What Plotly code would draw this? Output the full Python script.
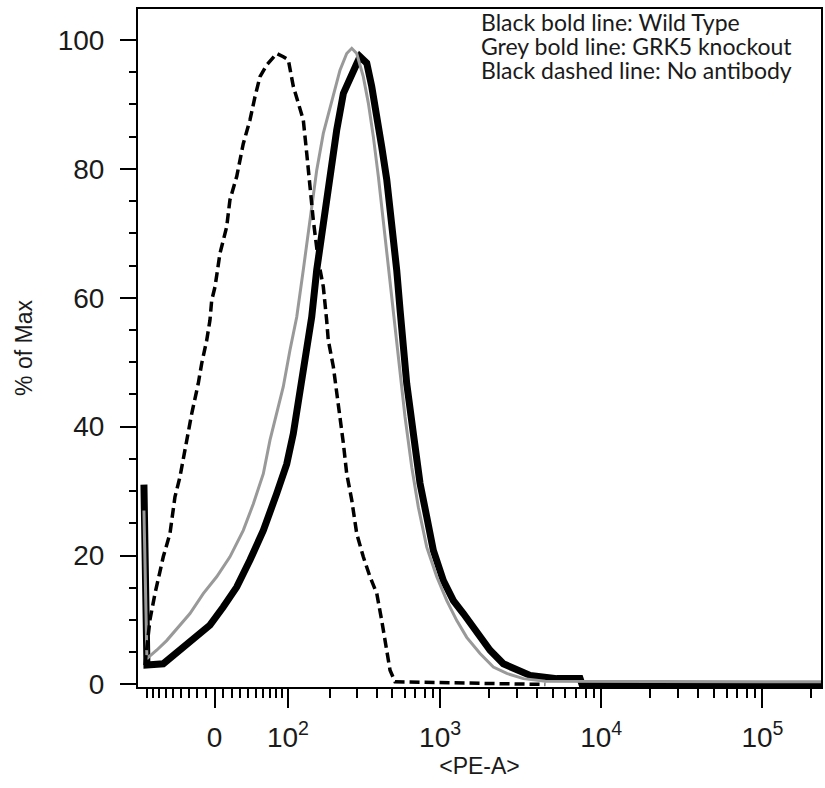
import numpy as np
import plotly.graph_objects as go

# ---------------- data (PE-A intensity, % of Max) ----------------
wt_pe = [-95.1, -89.9, -64.0, -41.2, -20.7, -5.3, 9.9, 25.7, 42.2, 60.3, 80.6, 97.8,
         110.1, 123.7, 138.4, 150.1, 162.7, 180.5, 200.4, 221.8, 245.3, 270.9, 299.3,
         314.2, 346.8, 373.0, 401.5, 431.6, 464.3, 499.0, 536.1, 562.8, 576.6, 619.3,
         681.6, 750.0, 825.9, 907.7, 1047.8, 1209.3, 1395.6, 1690, 2043, 2471, 2995,
         3622, 5304, 7394, 7600, 230700]
wt_pct = [31.0, 3.0, 3.2, 5.3, 7.3, 9.2, 12.0, 15.1, 19.3, 23.9, 29.6, 34.2,
          38.9, 45.1, 51.9, 57.0, 64.3, 72.0, 79.8, 86.0, 91.7, 94.3, 96.3,
          97.4, 96.4, 92.8, 88.6, 83.4, 78.3, 72.0, 64.3, 58.1, 54.5, 46.7,
          38.9, 31.2, 26.0, 20.8, 16.1, 13.0, 11.0, 7.9, 5.3, 3.2, 2.2,
          1.4, 0.9, 0.9, 0.0, 0.0]

ko_pe = [-95.1, -89.9, -87.6, -74.0, -59.1, -45.4, -28.7, -13.0, 2.4, 17.7, 33.7,
         46.5, 60.3, 70.1, 80.6, 91.7, 103.8, 116.9, 130.7, 146.1, 162.7, 180.5,
         210.7, 233.1, 257.9, 278.0, 299.3, 329.7, 355.1, 381.9, 411.0, 441.8,
         474.8, 510.7, 562.8, 604.5, 666.0, 732.1, 825.9, 953.4, 1100.5, 1270,
         1464, 1771, 2142, 2595, 3291, 4500, 230700]
ko_pct = [27.0, 4.0, 4.2, 5.3, 6.8, 8.6, 11.0, 14.1, 16.7, 19.8, 23.9,
          28.0, 32.7, 37.9, 42.0, 46.2, 51.9, 57.0, 64.3, 72.0, 79.8, 85.5,
          91.2, 95.3, 97.9, 98.7, 97.9, 94.3, 90.2, 85.0, 78.8, 72.0,
          65.3, 57.5, 49.3, 41.5, 33.7, 27.5, 21.3, 16.7, 13.0, 9.9,
          7.3, 4.8, 2.7, 1.7, 0.9, 0.5, 0.4]

noab_pe = [-93.3, -84.8, -76.6, -64.0, -54.5, -47.7, -41.2, -32.8, -26.6, -18.8,
           -14.8, -9.0, -5.3, -3.3, 0.5, 6.2, 13.9, 17.7, 25.7, 33.7, 42.2, 48.8,
           55.6, 65.2, 80.6, 91.7, 100.7, 110.1, 120.2, 130.7, 138.4, 146.1, 154.1,
           166.8, 180.5, 190.2, 195.0, 210.7, 227.3, 245.3, 257.9, 278.0, 299.3,
           329.7, 363.9, 401.5, 431.6, 464.3, 486.9, 523.3, 4500]
noab_pct = [3.0, 10.0, 14.1, 19.8, 23.4, 29.1, 32.2, 37.9, 42.0, 46.7,
            49.8, 53.4, 56.5, 59.6, 61.7, 66.9, 71.0, 75.2, 78.8, 83.9, 87.6, 91.2,
            94.3, 96.1, 97.9, 97.4, 96.9, 92.8, 90.2, 87.6, 82.4, 77.2, 72.0,
            65.8, 61.7, 56.5, 53.4, 49.3, 43.6, 37.4, 32.7, 28.6, 23.4,
            19.8, 16.7, 14.1, 9.9, 5.3, 2.2, 0.4, 0.0]

x_major_vals = [0, 100, 1000, 10000, 100000]
x_major_text = ["0", "10<sup>2</sup>", "10<sup>3</sup>", "10<sup>4</sup>", "10<sup>5</sup>"]
x_minor_vals = ([-v for v in range(10, 100, 10)] + list(range(10, 100, 10)) +
                list(range(200, 1000, 100)) + list(range(2000, 10000, 1000)) +
                list(range(20000, 100000, 10000)) + [200000])
x_limits = [-106, 230700]

y_major_vals = [0, 20, 40, 60, 80, 100]
legend_lines = ["Black bold line: Wild Type",
                "Grey bold line: GRK5 knockout",
                "Black dashed line: No antibody"]

# ---------------- biexponential-like display transform ----------------
C = 80.0
def T(v):
    return np.arcsinh(np.asarray(v, dtype=float) / C)

fig = go.Figure()
fig.add_trace(go.Scatter(x=T(wt_pe), y=wt_pct, mode="lines",
                         line=dict(color="#000000", width=7), showlegend=False))
fig.add_trace(go.Scatter(x=T(ko_pe), y=ko_pct, mode="lines",
                         line=dict(color="#999999", width=3), showlegend=False))
fig.add_trace(go.Scatter(x=T(noab_pe), y=noab_pct, mode="lines",
                         line=dict(color="#000000", width=3.5, dash="10px,5px"),
                         showlegend=False))

FONT = "Liberation Sans, Arial, sans-serif"
axis_font = dict(family=FONT, size=28, color="#1a1a1a")

fig.update_xaxes(
    automargin=False,
    range=list(T(x_limits)),
    tickmode="array", tickvals=list(T(x_major_vals)), ticktext=x_major_text,
    ticks="outside", ticklen=19, tickwidth=2, tickcolor="black",
    minor=dict(tickmode="array", tickvals=list(T(x_minor_vals)), ticks="outside",
               ticklen=9, tickwidth=2, tickcolor="black"),
    showline=True, linecolor="black", linewidth=2, mirror=True,
    showgrid=False, zeroline=False,
    tickfont=axis_font, ticklabelstandoff=5,
    title=dict(text="&lt;PE-A&gt;", font=dict(family=FONT, size=23, color="#1a1a1a"),
               standoff=4),
)
fig.update_yaxes(
    automargin=False,
    range=[-0.4, 104.8],
    tickmode="array", tickvals=y_major_vals,
    ticks="outside", ticklen=16, tickwidth=2, tickcolor="black",
    minor=dict(dtick=5, ticks="outside", ticklen=7, tickwidth=2, tickcolor="black"),
    showline=True, linecolor="black", linewidth=2, mirror=True,
    showgrid=False, zeroline=False,
    tickfont=axis_font, ticklabelstandoff=10,
    title=dict(text="% of Max", font=dict(family=FONT, size=23, color="#1a1a1a"),
               standoff=19),
)

for i, line in enumerate(legend_lines):
    fig.add_annotation(text=line, xref="paper", yref="paper",
                       x=0.4993, y=0.981 - i * 0.0355, xanchor="left", yanchor="middle",
                       showarrow=False,
                       font=dict(family="Lato, sans-serif", size=23, color="#1a1a1a"))

fig.update_layout(
    width=825, height=788,
    margin=dict(l=138, r=4, t=9, b=101),
    paper_bgcolor="white", plot_bgcolor="white",
)

fig.write_html("out.html", config={"displayModeBar": False},
               post_script="document.body.style.margin='0';"
                           "document.body.style.overflow='hidden';")
